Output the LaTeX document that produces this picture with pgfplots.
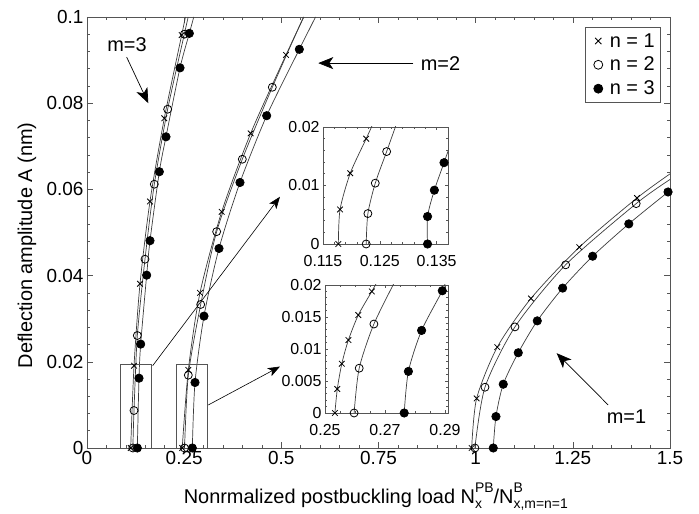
\documentclass[border=0pt]{standalone}
\usepackage{fontspec}
\setmainfont{Liberation Sans}
\usepackage{pgfplots}
\pgfplotsset{compat=1.18}
\usetikzlibrary{arrows.meta}

\definecolor{ln}{HTML}{3C3C3C}
\definecolor{fr}{HTML}{555555}
\newcommand\fs[1]{\fontsize{#1}{#1}\selectfont}
% sup/sub stacked
\newcommand\supsub[2]{\rlap{\raisebox{-0.55ex}{\fs{14}#2}}\raisebox{1.05ex}{\fs{14}#1}}
\newcommand\subsup[2]{\rlap{\raisebox{1.05ex}{\fs{14}#1}}\raisebox{-0.55ex}{\fs{14}#2}}

\pgfplotsset{
  mtx/.style={ln, line width=0.7bp, smooth, tension=0.45, mark=x, mark size=4pt,
    mark options={black, line width=0.8bp}},
  mto/.style={ln, line width=0.7bp, smooth, tension=0.45, mark=o, mark size=4pt,
    mark options={black, line width=0.8bp}},
  mtd/.style={ln, line width=0.7bp, smooth, tension=0.45, mark=*, mark size=4.2pt,
    mark options={black, fill=black}},
  frame/.style={
    tick align=inside, axis line style={fr, line width=0.8bp},
    tick style={fr, line width=0.6bp},
    scaled ticks=false,
    /pgf/number format/assume math mode=true,
    /pgf/number format/fixed, /pgf/number format/precision=3,
  },
}

\begin{document}
\begin{tikzpicture}
\begin{axis}[frame, name=main, at={(0,0)}, anchor=south west,
  scale only axis, width=583bp, height=431bp,
  xmin=0, xmax=1.5, ymin=0, ymax=0.1,
  xtick={0,0.25,0.5,0.75,1,1.25,1.5},
  ytick={0,0.02,0.04,0.06,0.08,0.1},
  minor x tick num=4, minor y tick num=4,
  major tick length=6bp, minor tick length=3.5bp,
  tick label style={font=\fs{19}, text=black},
  ylabel={Deflection amplitude A (nm)},
  ylabel style={font=\fs{20}, at={(axis description cs:-0.103,0.47)}, anchor=center},
  xlabel={Nonrmalized postbuckling load N\supsub{PB}{x}/N\subsup{B}{x,m=n=1}},
  xlabel style={font=\fs{20}, at={(axis description cs:0.16,-0.128)}, anchor=base west},
  legend style={at={(axis description cs:0.9846,0.9768)}, anchor=north east,
    draw=fr, line width=0.8bp, font=\fs{20}, row sep=4.5bp,
    inner xsep=4bp, inner ysep=4bp, cells={anchor=east}},
  legend image code/.code={%
    \draw[#1, mark size=4.5pt] plot coordinates {(0.3cm,0cm)};
    \path (0cm,0cm) (0.62cm,0cm);},
]
\addlegendimage{only marks, mark=x, black, line width=0.8bp}
\addlegendentry{n = 1}
\addlegendimage{only marks, mark=o, black, line width=0.8bp}
\addlegendentry{n = 2}
\addlegendimage{only marks, mark=*, black}
\addlegendentry{n = 3}

% m = 3
\addplot[mtx, mark indices={1,2,3,4,5,6}, forget plot] coordinates
  {(0.1124,0) (0.121,0.0191) (0.1364,0.0381) (0.162,0.0572) (0.1989,0.0765) (0.2436,0.0958) (0.2533,0.1)};
\addplot[mto, mark indices={1,2,3,4,5,6,7}, forget plot] coordinates
  {(0.118,0) (0.1209,0.0087) (0.1295,0.0261) (0.1492,0.0438) (0.1732,0.0612) (0.2075,0.0786) (0.2504,0.096) (0.2603,0.1)};
\addplot[mtd, mark indices={1,2,3,4,5,6,7,8,9}, forget plot] coordinates
  {(0.1295,0) (0.1338,0.0162) (0.1381,0.0241) (0.1535,0.0401) (0.1621,0.0481) (0.1861,0.0641) (0.2032,0.0722) (0.2393,0.0882) (0.2633,0.0962) (0.2747,0.1)};

% m = 2
\addplot[mtx, mark indices={1,2,3,4,5,6}, forget plot] coordinates
  {(0.245,0) (0.2607,0.0181) (0.2907,0.036) (0.3465,0.0548) (0.4211,0.073) (0.512,0.0912) (0.558,0.1)};
\addplot[mto, mark indices={1,2,3,4,5,6}, forget plot] coordinates
  {(0.251,0) (0.2607,0.0169) (0.2925,0.0333) (0.3336,0.0502) (0.3996,0.067) (0.4768,0.0837) (0.557,0.1)};
\addplot[mtd, mark indices={1,2,3,4,5,6,7}, forget plot] coordinates
  {(0.271,0) (0.2779,0.0152) (0.301,0.0306) (0.3396,0.0463) (0.3936,0.0616) (0.4623,0.0771) (0.5463,0.0925) (0.588,0.1)};

% m = 1
\addplot[mtx, mark indices={1,2,3,4,5,6}, forget plot] coordinates
  {(0.9897,0) (1.0025,0.0115) (1.0556,0.0234) (1.1423,0.0347) (1.2666,0.0466) (1.415,0.058) (1.5,0.0636)};
\addplot[mto, mark indices={1,2,3,4,5}, forget plot] coordinates
  {(0.998,0) (1.024,0.0141) (1.1011,0.0281) (1.2315,0.0425) (1.413,0.0567) (1.5,0.0623)};
\addplot[mtd, mark indices={1,2,3,4,5,6,7,8,9}, forget plot] coordinates
  {(1.0453,0) (1.0522,0.0073) (1.071,0.0148) (1.1096,0.0221) (1.1585,0.0295) (1.2238,0.0371) (1.301,0.0445) (1.394,0.052) (1.495,0.0594) (1.5,0.0597)};

% zoom boxes and pointers
\draw[fr, line width=0.6bp] (axis cs:0.0867,0) rectangle (axis cs:0.1662,0.0195);
\draw[fr, line width=0.6bp] (axis cs:0.2308,0) rectangle (axis cs:0.3095,0.0195);
\draw[black, line width=0.6bp, -{Stealth[length=12bp, width=9bp, inset=3bp]}]
  (axis cs:0.169,0.0191) -- (axis cs:0.4965,0.0583);
\draw[black, line width=0.6bp, -{Stealth[length=12bp, width=9bp, inset=3bp]}]
  (axis cs:0.312,0.00998) -- (axis cs:0.4965,0.0189);

% mode labels
\draw[black, line width=0.7bp, -{Stealth[length=15bp, width=12bp, inset=4bp]}]
  (axis cs:0.102,0.0907) -- (axis cs:0.1577,0.08);
\node[font=\fs{20}] at (axis cs:0.1029,0.0937) {m=3};
\draw[black, line width=0.7bp, -{Stealth[length=15bp, width=12bp, inset=4bp]}]
  (axis cs:0.8395,0.0893) -- (axis cs:0.595,0.0893);
\node[font=\fs{20}, anchor=west] at (axis cs:0.85,0.0893) {m=2};
\draw[black, line width=0.7bp, -{Stealth[length=15bp, width=12bp, inset=4bp]}]
  (axis cs:1.341,0.00998) -- (axis cs:1.2084,0.022);
\node[font=\fs{20}] at (axis cs:1.388,0.0073) {m=1};
\end{axis}

% inset 1 (m = 3)
\begin{axis}[frame, at={(236bp,204bp)}, anchor=south west,
  scale only axis, width=125bp, height=117bp,
  axis background/.style={fill=white},
  xmin=0.115, xmax=0.137, ymin=0, ymax=0.02,
  xtick={0.115,0.125,0.135}, ytick={0,0.01,0.02},
  minor x tick num=4, minor y tick num=4,
  major tick length=3bp, minor tick length=2bp,
  tick label style={font=\fs{16}, text=black},
  xticklabel style={yshift=-8bp},
]
\addplot[mtx, mark indices={1,2,3,4}] coordinates
  {(0.1177,0) (0.118,0.0059) (0.1198,0.0121) (0.1226,0.018) (0.124,0.021)};
\addplot[mto, mark indices={1,2,3,4}] coordinates
  {(0.1226,0) (0.1229,0.0052) (0.1242,0.0104) (0.1262,0.0158) (0.1281,0.021)};
\addplot[mtd, mark indices={1,2,3,4}] coordinates
  {(0.1334,0) (0.1334,0.0047) (0.1346,0.0092) (0.1363,0.0139) (0.1385,0.02)};
\end{axis}

% inset 2 (m = 2)
\begin{axis}[frame, at={(238bp,35bp)}, anchor=south west,
  scale only axis, width=123bp, height=128bp,
  axis background/.style={fill=white},
  xmin=0.25, xmax=0.291, ymin=0, ymax=0.02,
  xtick={0.25,0.27,0.29}, ytick={0,0.005,0.01,0.015,0.02},
  minor x tick num=3, minor y tick num=4,
  major tick length=3bp, minor tick length=2bp,
  tick label style={font=\fs{16}, text=black},
  xticklabel style={yshift=-8bp},
]
\addplot[mtx, mark indices={1,2,3,4,5,6}] coordinates
  {(0.2533,0) (0.2541,0.00375) (0.2556,0.0077) (0.2578,0.0114) (0.2611,0.0153) (0.2656,0.019) (0.268,0.021)};
\addplot[mto, mark indices={1,2,3}] coordinates
  {(0.2597,0) (0.2614,0.007) (0.2663,0.0139) (0.2738,0.021)};
\addplot[mtd, mark indices={1,2,3,4}] coordinates
  {(0.2764,0) (0.2778,0.0065) (0.2822,0.0129) (0.2891,0.0191) (0.2905,0.021)};
\end{axis}

\pgfresetboundingbox
\path[use as bounding box] (-87bp,-66bp) rectangle (612bp,448bp);
\end{tikzpicture}
\end{document}
